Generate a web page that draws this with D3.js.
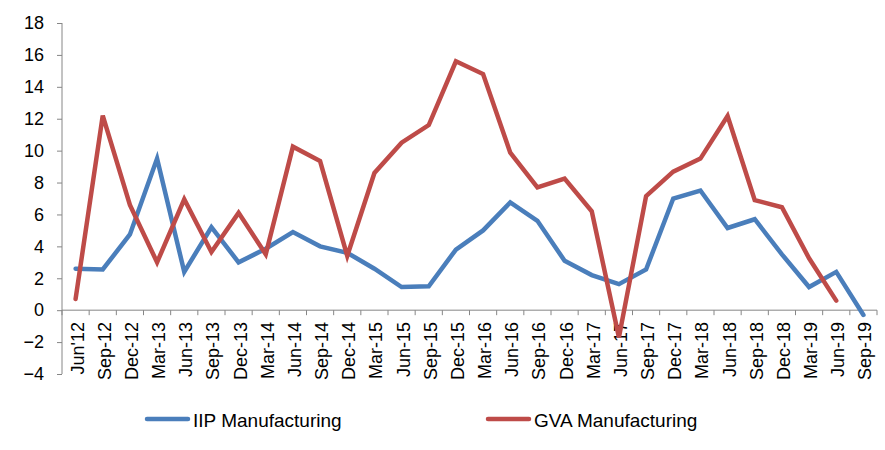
<!DOCTYPE html>
<html><head><meta charset="utf-8">
<script src="https://cdn.jsdelivr.net/npm/d3@7"></script>
<style>body{margin:0;background:#fff}svg{display:block}text{font-family:"Liberation Sans",Arial,sans-serif;fill:#000}</style>
</head><body><svg id="c" width="885" height="450"></svg>
<script>
const categories = ["Jun'12","Sep-12","Dec-12","Mar-13","Jun-13","Sep-13","Dec-13","Mar-14","Jun-14","Sep-14","Dec-14","Mar-15","Jun-15","Sep-15","Dec-15","Mar-16","Jun-16","Sep-16","Dec-16","Mar-17","Jun-17","Sep-17","Dec-17","Mar-18","Jun-18","Sep-18","Dec-18","Mar-19","Jun-19","Sep-19"];
const iip = [2.6,2.55,4.75,9.5,2.4,5.2,3.0,3.85,4.9,4.0,3.6,2.6,1.45,1.5,3.8,5.0,6.75,5.6,3.1,2.2,1.63,2.55,7.0,7.5,5.15,5.7,3.5,1.45,2.4,-0.3];
const gva = [0.7,12.2,6.6,3.0,6.95,3.65,6.1,3.5,10.25,9.35,3.4,8.6,10.5,11.6,15.6,14.8,9.87,7.7,8.25,6.2,-1.7,7.15,8.68,9.5,12.17,6.9,6.45,3.25,0.6,null];
const yTicks = [-4,-2,0,2,4,6,8,10,12,14,16,18];
const seriesNames = ["IIP Manufacturing","GVA Manufacturing"];
const colors = ["#4A7EBB","#BE4B48"];

const svg = d3.select("#c");
const x = d3.scaleBand().domain(categories).range([62,877]);
const y = d3.scaleLinear().domain([-4,18]).range([374,23]);
const axisColor = "#868686";

// y axis
const ya = svg.append("g").attr("transform","translate(62,0)")
  .call(d3.axisLeft(y).tickValues(yTicks).tickSize(5).tickPadding(13).tickFormat(d3.format("d")));
ya.select(".domain").attr("stroke",axisColor).attr("d","M0,"+y(-4)+"V"+y(18));
ya.selectAll(".tick line").attr("stroke",axisColor);
ya.selectAll(".tick text").style("font-size","18px").attr("fill","#000");

// x axis at zero
const xa = svg.append("g").attr("transform","translate(0,"+y(0)+")");
xa.append("line").attr("x1",62).attr("x2",877).attr("stroke",axisColor);
const bounds = categories.map(c=>x(c)).concat([x.range()[1]]);
xa.selectAll("line.tk").data(bounds).join("line").attr("class","tk")
  .attr("x1",d=>d).attr("x2",d=>d).attr("y1",0).attr("y2",5).attr("stroke",axisColor);
svg.append("g").selectAll("text").data(categories).join("text")
  .attr("transform",d=>"translate("+(x(d)+x.bandwidth()/2+8)+",322) rotate(-90)")
  .attr("text-anchor","end").style("font-size","18px").text(d=>d);

// lines
const line = d3.line().defined(d=>d.v!=null).x(d=>x(d.c)+x.bandwidth()/2).y(d=>y(d.v));
[iip,gva].forEach((s,i)=>{
  svg.append("path").datum(categories.map((c,j)=>({c:c,v:s[j]})))
    .attr("d",line).attr("fill","none").attr("stroke",colors[i])
    .attr("stroke-width",4.5).attr("stroke-linejoin","miter").attr("stroke-linecap","round");
});

// legend
const legX = [147,488];
seriesNames.forEach((n,i)=>{
  svg.append("line").attr("x1",legX[i]).attr("x2",legX[i]+41).attr("y1",419).attr("y2",419)
    .attr("stroke",colors[i]).attr("stroke-width",4.5).attr("stroke-linecap","round");
  svg.append("text").attr("x",legX[i]+46).attr("y",427).style("font-size","19px").text(n);
});
</script></body></html>
